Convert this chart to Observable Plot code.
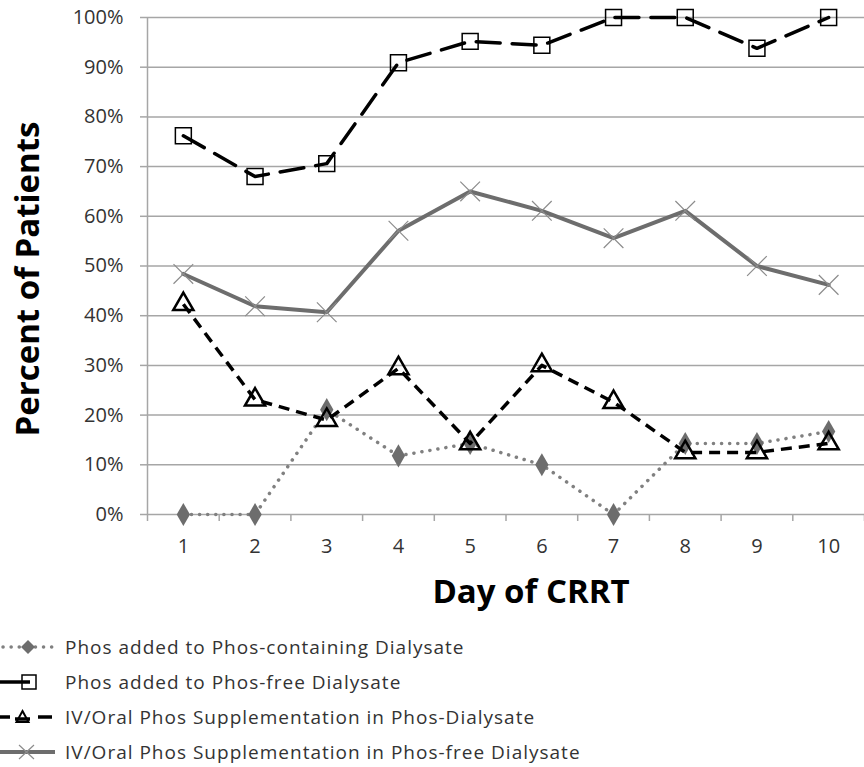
<!DOCTYPE html>
<html><head><meta charset="utf-8">
<script src="https://cdn.jsdelivr.net/npm/d3@7"></script>
<script src="https://cdn.jsdelivr.net/npm/@observablehq/plot@0.6"></script>
<style>
body{margin:0;background:#fff;font-family:"Open Sans",sans-serif;}
#legend{padding-top:14px;}
.row{display:flex;align-items:center;height:35px;font-size:19px;letter-spacing:1px;color:#333;}
.row svg{flex:none;margin-right:8px;}
</style></head><body>
<div id="chart"></div>
<div id="legend"></div>
<script>
const days = [1,2,3,4,5,6,7,8,9,10];
const seriesNames = [
  "Phos added to Phos-containing Dialysate",
  "Phos added to Phos-free Dialysate",
  "IV/Oral Phos Supplementation in Phos-Dialysate",
  "IV/Oral Phos Supplementation in Phos-free Dialysate"
];
const phosContaining = [0, 0, 21.1, 11.8, 14.3, 10.0, 0, 14.3, 14.3, 16.7];
const phosFree = [76.2, 68.0, 70.6, 90.9, 95.2, 94.4, 100, 100, 93.8, 100];
const ivOralPhosDial = [42.3, 23.1, 19.0, 29.4, 14.3, 30.0, 22.6, 12.5, 12.5, 14.3];
const ivOralPhosFree = [48.4, 41.9, 40.7, 57.1, 65.0, 61.1, 55.6, 61.1, 50.0, 46.2];
const yTicks = [0,10,20,30,40,50,60,70,80,90,100];
const xTitle = "Day of CRRT";
const yTitle = "Percent of Patients";

const mk = vals => days.map((d,i)=>({day:d, v:vals[i]}));
const s1 = mk(phosContaining), s2 = mk(phosFree), s3 = mk(ivOralPhosDial), s4 = mk(ivOralPhosFree);
const bounds = d3.range(0.5, 11, 1);

const chart = Plot.plot({
  width: 864, height: 615,
  marginLeft: 147, marginRight: 0, marginTop: 17, marginBottom: 101,
  style: {fontFamily: "'Open Sans', sans-serif", fontSize: "20px", color: "#333"},
  x: {domain: [0.5, 10.5]},
  y: {domain: [0, 100]},
  marks: [
    Plot.ruleY(yTicks, {stroke: "#a6a6a6", strokeWidth: 1.5, x1: 0.5, x2: 10.5}),
    Plot.axisY({ticks: yTicks, tickFormat: d => d + "%", tickSize: 7, stroke: "#a6a6a6", strokeWidth: 1.5, strokeOpacity: 1, tickPadding: 17, fontSize: 20, label: null}),
    Plot.ruleX([0.5], {stroke: "#a6a6a6", strokeWidth: 1.5}),
    Plot.axisX({ticks: bounds, tickFormat: () => "", tickSize: 7, stroke: "#a6a6a6", strokeWidth: 1.5, strokeOpacity: 1, label: null}),
    Plot.axisX({ticks: days, tickSize: 0, tickPadding: 24, fontSize: 20, label: null}),
    Plot.text([xTitle], {frameAnchor: "bottom", dx: 25, dy: 78, fontSize: 33, fontWeight: "bold", fontFamily: "'Open Sans', sans-serif", fill: "#000", lineAnchor: "middle"}),
    Plot.text([yTitle], {frameAnchor: "left", rotate: -90, dx: -119, dy: 13, fontSize: 33, fontWeight: "bold", fontFamily: "'Open Sans', sans-serif", fill: "#000", lineAnchor: "middle", textAnchor: "middle"}),
    // series 1: gray dotted with diamonds
    Plot.line(s1, {x: "day", y: "v", stroke: "#808080", strokeWidth: 3.5, strokeDasharray: "0.1,8", strokeLinecap: "round"}),
    Plot.dot(s1, {x: "day", y: "v", symbol: "diamond", r: 7, fill: "#6d6d6d"}),
    // series 2: black long dash with squares
    Plot.line(s2, {x: "day", y: "v", stroke: "#000", strokeWidth: 3.5, strokeDasharray: "24,12", strokeLinecap: "round"}),
    Plot.dot(s2, {x: "day", y: "v", symbol: "square", r: 9, stroke: "#000", strokeWidth: 1.5, fill: "none"}),
    // series 3: black dashed with triangles
    Plot.line(s3, {x: "day", y: "v", stroke: "#000", strokeWidth: 3.5, strokeDasharray: "11,7", strokeLinecap: "butt"}),
    Plot.dot(s3, {x: "day", y: "v", symbol: "triangle", r: 7.5, stroke: "#000", strokeWidth: 2.5, fill: "none"}),
    // series 4: gray solid with crosses
    Plot.line(s4, {x: "day", y: "v", stroke: "#6d6d6d", strokeWidth: 4}),
    Plot.dot(s4, {x: "day", y: "v", symbol: "times", r: 9, stroke: "#8c8c8c", strokeWidth: 1.2})
  ]
});
document.getElementById("chart").appendChild(chart);

// legend
const sw = [
  `<line x1="3" y1="10" x2="55" y2="10" stroke="#808080" stroke-width="3.5" stroke-dasharray="0.1,8" stroke-linecap="round"/><path d="M28,3L35,10L28,17L21,10Z" fill="#6d6d6d"/>`,
  `<line x1="0" y1="10" x2="30" y2="10" stroke="#000" stroke-width="3.5"/><rect x="22" y="3" width="14" height="14" fill="none" stroke="#000" stroke-width="1.5"/>`,
  `<line x1="0" y1="10" x2="10" y2="10" stroke="#000" stroke-width="3.5"/><line x1="38" y1="10" x2="52" y2="10" stroke="#000" stroke-width="3.5"/><line x1="15" y1="12" x2="30" y2="12" stroke="#000" stroke-width="3.5"/><path d="M22.5,4L28.5,15L16.5,15Z" fill="none" stroke="#000" stroke-width="2"/>`,
  `<line x1="0" y1="10" x2="55" y2="10" stroke="#6d6d6d" stroke-width="4"/><path d="M19,3L34,17M34,3L19,17" stroke="#8c8c8c" stroke-width="1.2"/>`
];
document.getElementById("legend").innerHTML = seriesNames.map((n,i)=>
  `<div class="row"><svg width="57" height="20">${sw[i]}</svg><span>${n}</span></div>`).join("");
</script>
</body></html>
